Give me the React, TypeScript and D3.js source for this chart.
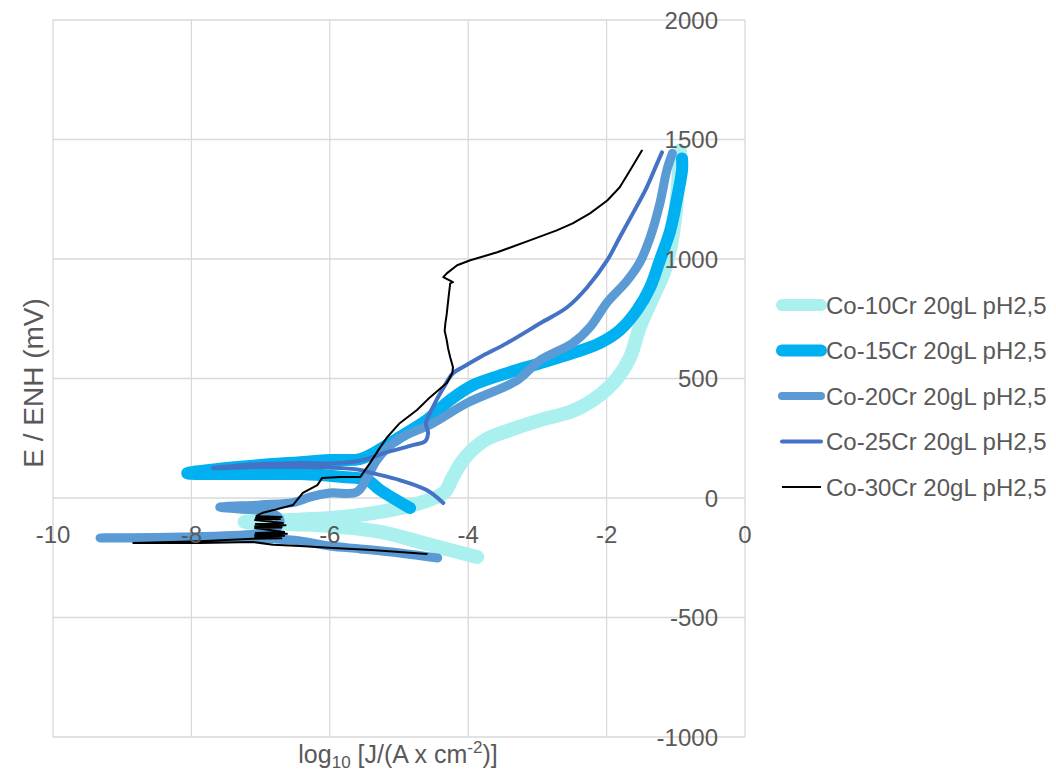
import React from "react";
import * as d3 from "d3";

const W = 1056;
const H = 774;

const xTicks = [-10, -8, -6, -4, -2, 0];
const yTicks = [-1000, -500, 0, 500, 1000, 1500, 2000];

const seriesNames = [
  "Co-10Cr 20gL pH2,5",
  "Co-15Cr 20gL pH2,5",
  "Co-20Cr 20gL pH2,5",
  "Co-25Cr 20gL pH2,5",
  "Co-30Cr 20gL pH2,5",
];
const seriesColors = ["#AAF0EE", "#00B0F0", "#5B9BD5", "#4472C4", "#000000"];
const seriesWidths = [14, 12, 9, 4, 2];
const legendWidths = [12, 12, 8, 4, 2];

// [log10 J, E (mV)]
const co10Cr: [number, number][] = [
  [-3.87, -247], [-4.55, -196], [-5.27, -142], [-6.0, -117], [-6.58, -109], [-7.23, -100],
  [-6.58, -92], [-6.0, -84], [-5.27, -58], [-4.7, -21], [-4.34, 25], [-4.23, 84],
  [-4.05, 167], [-3.76, 242], [-3.4, 284], [-2.96, 326], [-2.53, 360], [-2.34, 385],
  [-2.1, 430], [-1.85, 500], [-1.66, 589], [-1.52, 715], [-1.33, 840], [-1.16, 953],
  [-1.05, 1091], [-0.98, 1258], [-0.95, 1412], [-0.94, 1454],
];

const co15Cr: [number, number][] = [
  [-4.84, -42], [-5.27, 33], [-5.46, 75], [-5.81, 88], [-6.43, 100], [-7.15, 100],
  [-8.06, 104], [-7.15, 134], [-6.43, 150], [-6.0, 159], [-5.56, 163], [-5.32, 196],
  [-4.99, 255], [-4.6, 326], [-4.26, 410], [-3.93, 472], [-3.44, 522], [-2.96, 564],
  [-2.49, 606], [-2.1, 648], [-1.81, 702], [-1.56, 786], [-1.37, 882], [-1.23, 995],
  [-1.08, 1120], [-0.98, 1258], [-0.91, 1371], [-0.91, 1421],
];

const co20Cr: [number, number][] = [
  [-4.44, -251], [-4.99, -230], [-5.56, -213], [-6.0, -201], [-6.43, -180], [-6.86, -171],
  [-7.44, -167], [-8.45, -167], [-9.32, -167], [-8.16, -163], [-7.08, -150], [-6.79, -134],
  [-6.72, -92], [-6.86, -59], [-7.3, -46], [-7.59, -38], [-7.01, -29], [-6.5, -17],
  [-6.29, 4], [-6.0, 21], [-5.61, 25], [-5.46, 84], [-5.32, 159], [-5.03, 242],
  [-4.51, 313], [-4.02, 397], [-3.29, 493], [-2.96, 577], [-2.49, 648], [-2.24, 715],
  [-1.99, 819], [-1.71, 907], [-1.52, 986], [-1.37, 1091], [-1.23, 1233], [-1.13, 1371],
  [-1.05, 1442],
];

const co25Cr: [number, number][] = [
  [-4.36, -21], [-4.6, 33], [-4.99, 75], [-5.38, 104], [-5.56, 117], [-5.81, 125],
  [-6.43, 130], [-7.01, 130], [-7.69, 125], [-7.01, 142], [-6.43, 146], [-5.85, 146],
  [-5.52, 159], [-5.17, 192], [-4.8, 221], [-4.62, 238], [-4.58, 272], [-4.61, 313],
  [-4.51, 380], [-4.36, 460], [-4.22, 522], [-4.08, 547], [-3.83, 589], [-3.44, 648],
  [-2.96, 731], [-2.57, 798], [-2.28, 882], [-1.99, 995], [-1.81, 1091], [-1.62, 1191],
  [-1.42, 1300], [-1.27, 1400], [-1.2, 1446],
];

const co30Cr: [number, number][] = [
  [-4.6, -234], [-4.99, -226], [-5.46, -217], [-5.95, -209], [-6.43, -201], [-6.82, -196],
  [-7.11, -184], [-7.88, -188], [-8.84, -188], [-7.88, -181], [-7.11, -171],
  [-6.7, -168], [-7.08, -163], [-6.66, -158], [-7.08, -155], [-6.62, -150], [-7.07, -146],
  [-6.66, -142], [-7.08, -126], [-6.7, -123], [-7.08, -118], [-6.64, -114], [-7.07, -109],
  [-6.68, -105], [-7.08, -92], [-6.72, -88], [-7.07, -84], [-6.7, -79], [-7.06, -75],
  [-6.98, -63], [-6.53, -29], [-6.39, 21],
  [-6.18, 54], [-6.11, 84], [-5.85, 88], [-5.56, 88], [-5.42, 146], [-5.27, 213],
  [-5.17, 255], [-4.99, 313], [-4.74, 368], [-4.55, 422], [-4.31, 481], [-4.23, 522],
  [-4.22, 547], [-4.26, 589], [-4.29, 625], [-4.31, 660], [-4.34, 700], [-4.33, 731],
  [-4.31, 770], [-4.3, 798], [-4.28, 850], [-4.26, 898], [-4.22, 903], [-4.36, 924],
  [-4.31, 940], [-4.16, 974], [-3.97, 995], [-3.58, 1028], [-3.11, 1078], [-2.72, 1120],
  [-2.49, 1149], [-2.24, 1191], [-1.99, 1245], [-1.81, 1300], [-1.66, 1371], [-1.49, 1454],
];

const allSeries = [co10Cr, co15Cr, co20Cr, co25Cr, co30Cr];

export default function App() {
  const x = d3.scaleLinear().domain([-10, 0]).range([53, 745]);
  const y = d3.scaleLinear().domain([-1000, 2000]).range([737, 20]);
  const smooth = d3
    .line<[number, number]>()
    .x((d) => x(d[0]))
    .y((d) => y(d[1]))
    .curve(d3.curveCatmullRom.alpha(0.5));
  const straight = d3
    .line<[number, number]>()
    .x((d) => x(d[0]))
    .y((d) => y(d[1]));

  const grid = "#d9d9d9";
  const textColor = "#595959";
  const font = "'Liberation Sans', Arial, sans-serif";

  return (
    <svg
      width={W}
      height={H}
      style={{ position: "absolute", left: 0, top: 0, display: "block", background: "#fff" }}
      fontFamily={font}
    >
      <rect x={0} y={0} width={W} height={H} fill="#fff" />
      {xTicks.map((t) => (
        <line key={"gx" + t} x1={x(t)} x2={x(t)} y1={y(-1000)} y2={y(2000)} stroke={grid} strokeWidth={1.3} />
      ))}
      {yTicks.map((t) => (
        <line key={"gy" + t} x1={x(-10)} x2={x(0)} y1={y(t)} y2={y(t)} stroke={grid} strokeWidth={1.3} />
      ))}
      {allSeries.map((s, i) => (
        <path
          key={"s" + i}
          d={(i === 4 ? straight(s) : smooth(s)) || ""}
          fill="none"
          stroke={seriesColors[i]}
          strokeWidth={seriesWidths[i]}
          strokeLinecap="round"
          strokeLinejoin="round"
        />
      ))}
      {xTicks.map((t) => (
        <text key={"tx" + t} x={x(t)} y={543} textAnchor="middle" fontSize={24} fill={textColor}>
          {t}
        </text>
      ))}
      {yTicks.map((t) => (
        <text
          key={"ty" + t}
          x={718}
          y={y(t)}
          textAnchor="end"
          dominantBaseline="central"
          fontSize={24}
          fill={textColor}
        >
          {t}
        </text>
      ))}
      <text
        transform={`translate(43, ${383}) rotate(-90)`}
        textAnchor="middle"
        fontSize={28}
        fill={textColor}
      >
        E / ENH (mV)
      </text>
      <text x={398} y={763} textAnchor="middle" fontSize={25} fill={textColor}>
        log
        <tspan fontSize={17} dy={5}>10</tspan>
        <tspan dy={-5}> [J/(A x cm</tspan>
        <tspan fontSize={17} dy={-10}>-2</tspan>
        <tspan dy={10}>)]</tspan>
      </text>
      {seriesNames.map((n, i) => {
        const ly = 305 + i * 45.5;
        return (
          <g key={"lg" + i}>
            <line
              x1={782}
              x2={821}
              y1={ly}
              y2={ly}
              stroke={seriesColors[i]}
              strokeWidth={legendWidths[i]}
              strokeLinecap={i < 4 ? "round" : "butt"}
            />
            <text x={826} y={ly} dominantBaseline="central" fontSize={24} fill={textColor}>
              {n}
            </text>
          </g>
        );
      })}
    </svg>
  );
}
